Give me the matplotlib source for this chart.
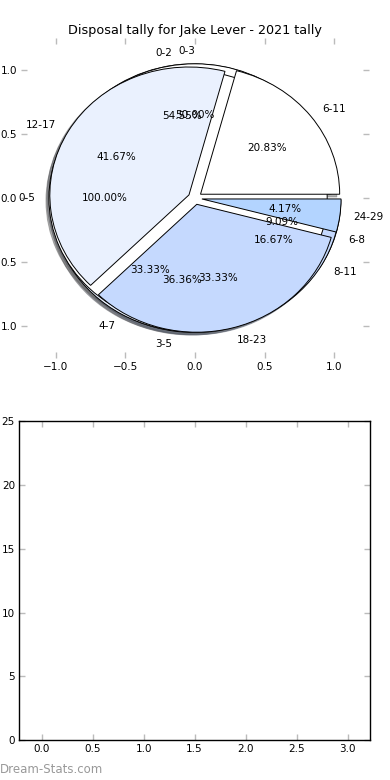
import matplotlib
matplotlib.use("Agg")
import matplotlib.pyplot as plt

# four tallies drawn on top of each other on one axis
labels_a = ["0-2", "3-5", "6-8"]
values_a = [6, 4, 1]
labels_b = ["0-3", "4-7", "8-11"]
values_b = [3, 2, 1]
labels_c = ["0-5"]
values_c = [1]
labels_d = ["6-11", "12-17", "18-23", "24-29"]
values_d = [5, 10, 8, 1]

colours = ["#ffffff", "#eaf1fe", "#c5d9fe", "#b3d4ff"]

title = "Disposal tally for Jake Lever - 2021 tally"
tick_grey = "#bbbbbb"

fig = plt.figure(figsize=(3.9, 7.8), dpi=100)
ax1 = fig.add_axes([0.054, 0.541, 0.892, 0.410])
ax2 = fig.add_axes([0.049, 0.051, 0.900, 0.409])

for vals, labs in [(values_a, labels_a), (values_b, labels_b),
                   (values_c, labels_c), (values_d, labels_d)]:
    ax1.pie(vals, labels=labs, colors=colours[:len(vals)],
            explode=[0.05] * len(vals),
            shadow=dict(ox=-0.015, oy=-0.015, shade=0.6),
            autopct="%1.2f%%",
            wedgeprops=dict(edgecolor="black", linewidth=0.7),
            textprops=dict(fontsize=7.5))

ax1.set_aspect("auto")
ax1.set_xlim(-1.25, 1.25)
ax1.set_ylim(-1.25, 1.25)
ax1.set_xticks([-1.0, -0.5, 0.0, 0.5, 1.0])
ax1.set_yticks([-1.0, -0.5, 0.0, 0.5, 1.0])
ax1.set_yticklabels(["1.0", "0.5", "0.0", "0.5", "1.0"])
ax1.set_title(title, fontsize=9.2, pad=3)

ax2.set_xlim(-0.22, 3.22)
ax2.set_ylim(0, 25)
ax2.set_xticks([0.0, 0.5, 1.0, 1.5, 2.0, 2.5, 3.0])
ax2.set_yticks([0, 5, 10, 15, 20, 25])
for s in ax2.spines.values():
    s.set_color("black")
    s.set_linewidth(1.0)

for ax in (ax1, ax2):
    ax.tick_params(direction="in", length=4, width=1, color=tick_grey,
                   top=True, right=True, labelsize=7.5, pad=3)

fig.text(0.0, 0.013, "Dream-Stats.com", color="#999999", fontsize=8.5,
         va="center", ha="left")

fig.savefig("out.png", dpi=100)
